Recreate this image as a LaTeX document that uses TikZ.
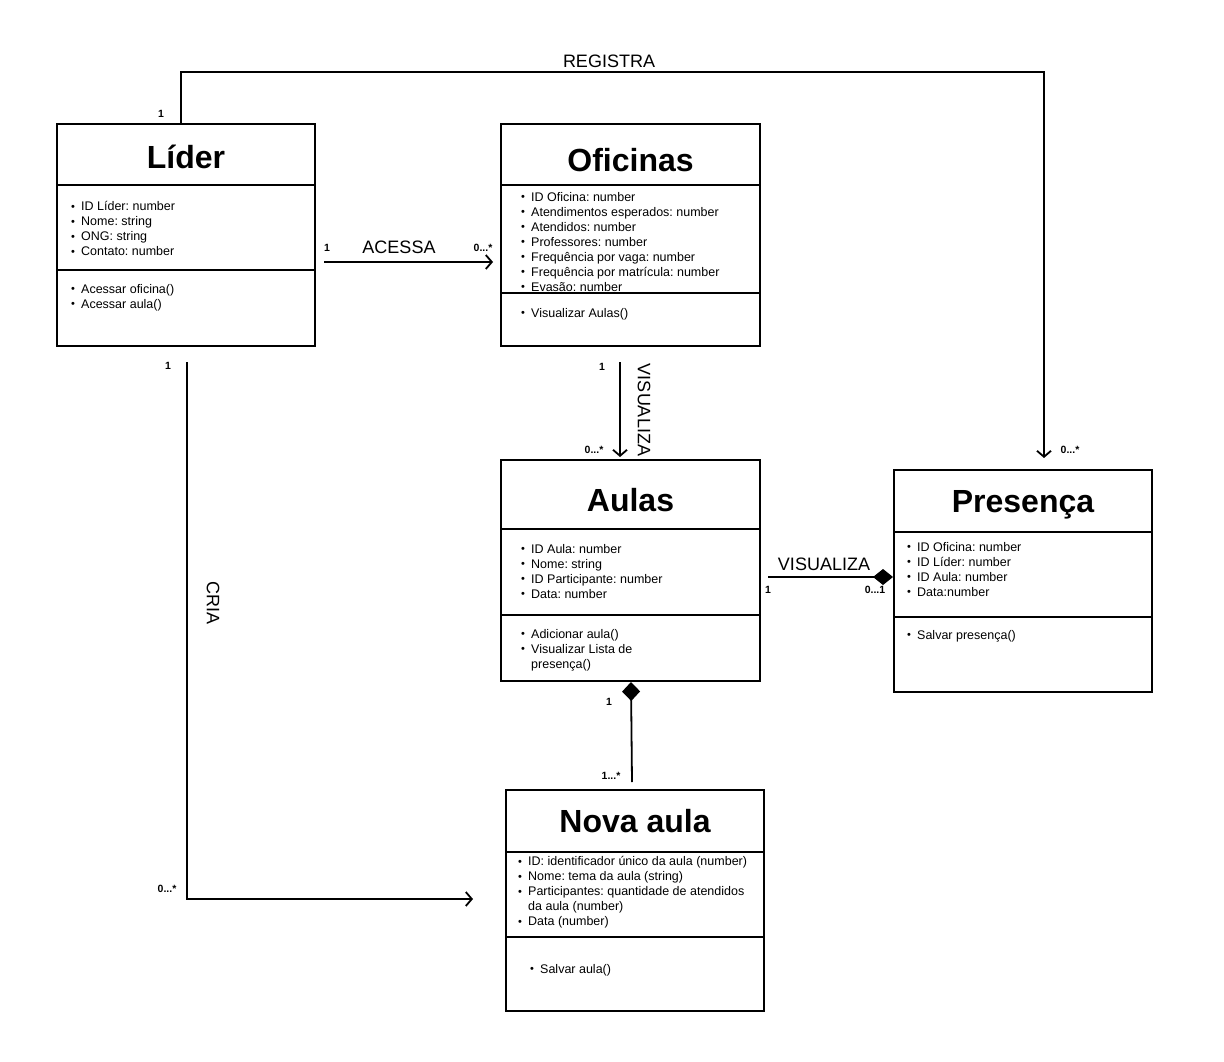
\documentclass[tikz,border=0pt]{standalone}
\usepackage{fontspec}
\setmainfont{Liberation Sans}
\usetikzlibrary{arrows.meta,calc}
\frenchspacing
\newcommand\itm{\makebox[10pt][l]{\raisebox{0.3pt}{\fontsize{11}{11}\selectfont\textbullet}}}
\newcommand\ind{\hspace*{10pt}}
\begin{document}
\begin{tikzpicture}[x=1pt,y=-1pt,
  cls/.style={draw,line width=2.6pt,anchor=north west,inner sep=0,outer sep=0},
  divider/.style={line width=2.2pt},
  ttl/.style={font=\fontsize{32}{36}\selectfont\bfseries},
  txt/.style={font=\fontsize{12.5}{15}\selectfont\frenchspacing,align=left,anchor=north west,inner sep=0},
  lbl/.style={font=\fontsize{18}{20}\selectfont,inner sep=0},
  mult/.style={font=\fontsize{10.5}{12}\selectfont\bfseries,inner sep=0},
  conn/.style={line width=1.8pt},
  openarrow/.style={-{Straight Barb[length=6pt,width=14pt,line width=1.8pt]}}
]
\useasboundingbox (0,0) rectangle (1224,1062);
\fill[white] (0,0) rectangle (1224,1062);

% ---------- Líder ----------
\node[cls,minimum width=258,minimum height=222] (lider) at (57,124) {};
\draw[divider] ($(lider.north west)+(0,61)$) -- ($(lider.north east)+(0,61)$);
\draw[divider] ($(lider.north west)+(0,146)$) -- ($(lider.north east)+(0,146)$);
\node[ttl] (liderT) at ($(lider.north)+(0,33)$) {Líder};
\node[txt] (liderA) at (71,201) {\itm ID Líder: number\\ \itm Nome: string\\ \itm ONG: string\\ \itm Contato: number};
\node[txt] (liderM) at (71,284) {\itm Acessar oficina()\\ \itm Acessar aula()};

% ---------- Oficinas ----------
\node[cls,minimum width=259,minimum height=222] (ofi) at (501,124) {};
\draw[divider] ($(ofi.north west)+(0,61)$) -- ($(ofi.north east)+(0,61)$);
\draw[divider] ($(ofi.north west)+(0,169)$) -- ($(ofi.north east)+(0,169)$);
\node[ttl] (ofiT) at ($(ofi.north)+(0,36)$) {Oficinas};
\node[txt] (ofiA) at (521,192) {\itm ID Oficina: number\\ \itm Atendimentos esperados: number\\ \itm Atendidos: number\\ \itm Professores: number\\ \itm Frequência por vaga: number\\ \itm Frequência por matrícula: number\\ \itm Evasão: number};
\node[txt] (ofiM) at (521,308) {\itm Visualizar Aulas()};

% ---------- Aulas ----------
\node[cls,minimum width=259,minimum height=221] (aulas) at (501,460) {};
\draw[divider] ($(aulas.north west)+(0,69)$) -- ($(aulas.north east)+(0,69)$);
\draw[divider] ($(aulas.north west)+(0,155)$) -- ($(aulas.north east)+(0,155)$);
\node[ttl] (aulasT) at ($(aulas.north)+(0,40)$) {Aulas};
\node[txt] (aulasA) at (521,544) {\itm ID Aula: number\\ \itm Nome: string\\ \itm ID Participante: number\\ \itm Data: number};
\node[txt] (aulasM) at (521,629) {\itm Adicionar aula()\\ \itm Visualizar Lista de\\ \ind presença()};

% ---------- Presença ----------
\node[cls,minimum width=258,minimum height=222] (pres) at (894,470) {};
\draw[divider] ($(pres.north west)+(0,62)$) -- ($(pres.north east)+(0,62)$);
\draw[divider] ($(pres.north west)+(0,147)$) -- ($(pres.north east)+(0,147)$);
\node[ttl] (presT) at ($(pres.north)+(0,35)$) {Presença};
\node[txt] (presA) at (907,542) {\itm ID Oficina: number\\ \itm ID Líder: number\\ \itm ID Aula: number\\ \itm Data:number};
\node[txt] (presM) at (907,630) {\itm Salvar presença()};

% ---------- Nova aula ----------
\node[cls,minimum width=258,minimum height=221] (nova) at (506,790) {};
\draw[divider] ($(nova.north west)+(0,62)$) -- ($(nova.north east)+(0,62)$);
\draw[divider] ($(nova.north west)+(0,147)$) -- ($(nova.north east)+(0,147)$);
\node[ttl] (novaT) at ($(nova.north)+(0,31)$) {Nova aula};
\node[txt] (novaA) at (518,856) {\itm ID: identificador único da aula (number)\\ \itm Nome: tema da aula (string)\\ \itm Participantes: quantidade de atendidos\\ \ind da aula (number)\\ \itm Data (number)};
\node[txt] (novaM) at (530,964) {\itm Salvar aula()};

% ---------- Connectors ----------
% REGISTRA
\coordinate (regS) at ($(lider.north west)+(124,0)$);
\coordinate (regE) at ($(pres.north west)+(150,-12)$);
\draw[conn,openarrow] (regS) -- ++(0,-52) -| (regE);
\node[lbl] (regL) at (609,61) {REGISTRA};
\node[mult] (regM1) at (161,114) {1};
\node[mult] (regM2) at (1070,450) {0...*};

% ACESSA
\coordinate (acS) at ($(lider.north east)+(9,138)$);
\coordinate (acE) at ($(ofi.north west)+(-8,138)$);
\draw[conn,openarrow] (acS) -- (acE);
\node[lbl] (acL) at (399,247) {ACESSA};
\node[mult] (acM1) at (327,248) {1};
\node[mult] (acM2) at (483,248) {0...*};

% VISUALIZA (vertical)
\coordinate (v1S) at ($(ofi.south west)+(119,16)$);
\coordinate (v1E) at ($(aulas.north west)+(119,-3)$);
\draw[conn,openarrow] (v1S) -- (v1E);
\node[lbl,rotate=-90] (v1L) at (644,410) {VISUALIZA};
\node[mult] (v1M1) at (602,367) {1};
\node[mult] (v1M2) at (594,450) {0...*};

% VISUALIZA (horizontal, diamond at Presença)
\coordinate (v2S) at ($(aulas.north east)+(8,117)$);
\coordinate (v2E) at ($(pres.north west)+(-1,107)$);
\draw[conn,-{Diamond[length=20pt,width=16pt]}] (v2S) -- (v2E);
\node[lbl] (v2L) at (824,564) {VISUALIZA};
\node[mult] (v2M1) at (768,590) {1};
\node[mult] (v2M2) at (875,590) {0...1};

% Composition Aulas - Nova aula
\coordinate (cS) at ($(aulas.south west)+(130,1)$);
\coordinate (cE) at ($(nova.north west)+(126,-8)$);
\draw[conn,{Diamond[length=19pt,width=18pt]}-] (cS) -- (cE);
\node[mult] (cM1) at (609,702) {1};
\node[mult] (cM2) at (611,776) {1...*};

% CRIA
\coordinate (crS) at ($(lider.south west)+(130,16)$);
\coordinate (crE) at ($(nova.north west)+(-33,109)$);
\draw[conn,openarrow] (crS) |- (crE);
\node[lbl,rotate=-90] (crL) at (213,603) {CRIA};
\node[mult] (crM1) at (168,366) {1};
\node[mult] (crM2) at (167,889) {0...*};
\end{tikzpicture}
\end{document}
